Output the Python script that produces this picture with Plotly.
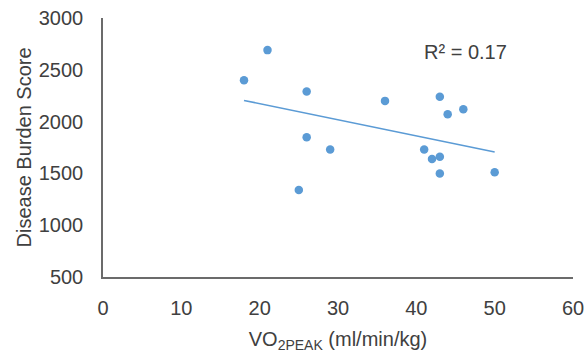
import numpy as np
import plotly.graph_objects as go

vo2peak = [18, 21, 25, 26, 26, 29, 36, 41, 42, 43, 43, 43, 44, 46, 50]
disease_burden = [2400, 2690, 1340, 2290, 1850, 1730, 2200, 1730, 1640, 1660, 2240, 1500, 2070, 2120, 1510]
r2_label = "R² = 0.17"
y_title = "Disease Burden Score"
x_title = "VO<sub>2PEAK</sub> (ml/min/kg)"
x_ticks = [0, 10, 20, 30, 40, 50, 60]
y_ticks = [500, 1000, 1500, 2000, 2500, 3000]

blue = "#5B9BD5"
txt = "#404040"
font = "Liberation Sans, Arial, sans-serif"

xs = np.array(vo2peak, dtype=float)
ys = np.array(disease_burden, dtype=float)
slope, intercept = np.polyfit(xs, ys, 1)
xl = np.array([xs.min(), xs.max()])
yl = slope * xl + intercept

fig = go.Figure()
fig.add_trace(go.Scatter(x=xl, y=yl, mode="lines", line=dict(color=blue, width=1.6),
                         hoverinfo="skip", showlegend=False))
fig.add_trace(go.Scatter(x=vo2peak, y=disease_burden, mode="markers",
                         marker=dict(color=blue, size=8.5), showlegend=False))

fig.add_annotation(x=46.3, y=2671, text=r2_label, showarrow=False,
                   font=dict(family=font, size=20, color=txt), xanchor="center", yanchor="middle")
fig.add_annotation(xref="paper", yref="paper", x=0, y=0.5, xshift=-80, text=y_title,
                   textangle=-90, showarrow=False, xanchor="center", yanchor="middle",
                   font=dict(family=font, size=20, color=txt))

fig.update_layout(
    width=585, height=356, autosize=False,
    margin=dict(l=103, r=12, t=18, b=79),
    plot_bgcolor="white", paper_bgcolor="white",
    font=dict(family=font, size=20, color=txt),
    xaxis=dict(range=[0, 60], tickvals=x_ticks, showgrid=False, zeroline=False,
               showline=True, linecolor="#6b6b6b", linewidth=1.5, ticks="",
               ticklabelstandoff=12, automargin=False,
               title=dict(text=x_title, standoff=14,
                          font=dict(family=font, size=20, color=txt))),
    yaxis=dict(range=[500, 3000], tickvals=y_ticks, showgrid=False, zeroline=False,
               showline=True, linecolor="#6b6b6b", linewidth=1.5, ticks="",
               ticklabelstandoff=14, automargin=False),
)

fig.write_html("out.html")
